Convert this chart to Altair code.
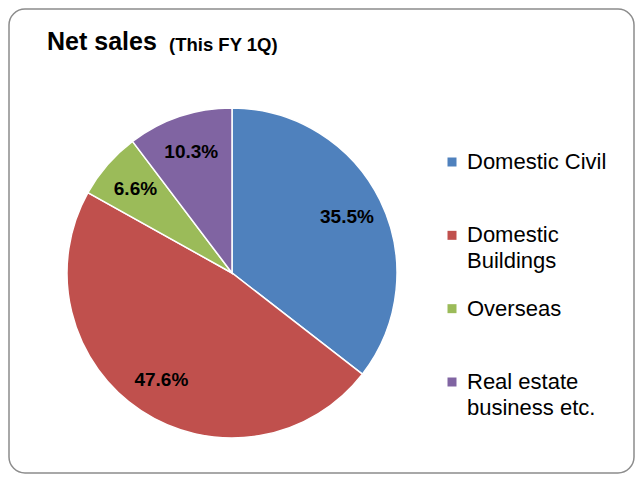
import altair as alt
import pandas as pd

categories = ["Domestic Civil", "Domestic Buildings", "Overseas", "Real estate business etc."]
shares = [35.5, 47.6, 6.6, 10.3]
slice_labels = ["35.5%", "47.6%", "6.6%", "10.3%"]
legend_labels = ["Domestic Civil", "Domestic\nBuildings", "Overseas", "Real estate\nbusiness etc."]
colors = ["#4F81BD", "#C0504D", "#9BBB59", "#8064A2"]
title_main = "Net sales"
title_sub = "(This FY 1Q)"

FONT = "Liberation Sans"

df = pd.DataFrame({
    "category": categories,
    "share": shares,
    "label": slice_labels,
    "legend": legend_labels,
    "order": list(range(len(categories))),
})

cx, cy = 223, 264

color = alt.Color("category:N", scale=alt.Scale(domain=categories, range=colors), legend=None)
theta = alt.Theta("share:Q", stack=True)
order = alt.Order("order:Q")

base = alt.Chart(df)

pie = base.mark_arc(outerRadius=165, stroke="white", strokeWidth=1.5).encode(
    theta=theta, color=color, order=order,
    x=alt.value(cx), y=alt.value(cy),
)

pie_text = base.mark_text(radius=128, fontSize=19, fontWeight="bold", font=FONT, color="black").encode(
    theta=theta, order=order, text="label:N",
    x=alt.value(cx), y=alt.value(cy),
)

leg_y = alt.Y("category:N", scale=alt.Scale(type="point", domain=categories, range=[153, 373], padding=0), axis=None)

leg_sym = base.mark_square(size=81, opacity=1).encode(
    y=leg_y, x=alt.value(443), color=color,
)

leg_text = base.mark_text(align="left", baseline="alphabetic", dy=7, fontSize=22, font=FONT,
                          lineBreak="\n", lineHeight=26, color="black").encode(
    y=leg_y, x=alt.value(458), text="legend:N",
)

t1 = alt.Chart(pd.DataFrame({"t": [title_main]})).mark_text(
    align="left", baseline="alphabetic", fontSize=25, fontWeight="bold", font=FONT, color="black"
).encode(text="t:N", x=alt.value(38), y=alt.value(41))

t2 = alt.Chart(pd.DataFrame({"t": [title_sub]})).mark_text(
    align="left", baseline="alphabetic", fontSize=18.5, fontWeight="bold", font=FONT, color="black"
).encode(text="t:N", x=alt.value(160), y=alt.value(42))

chart = alt.layer(pie, pie_text, leg_sym, leg_text, t1, t2).properties(
    width=625, height=464, padding=1, autosize="none",
).configure_view(stroke="#8c8c8c", strokeWidth=1.5, cornerRadius=16)

chart.save("out.html", embed_options={"renderer": "svg", "actions": False})
